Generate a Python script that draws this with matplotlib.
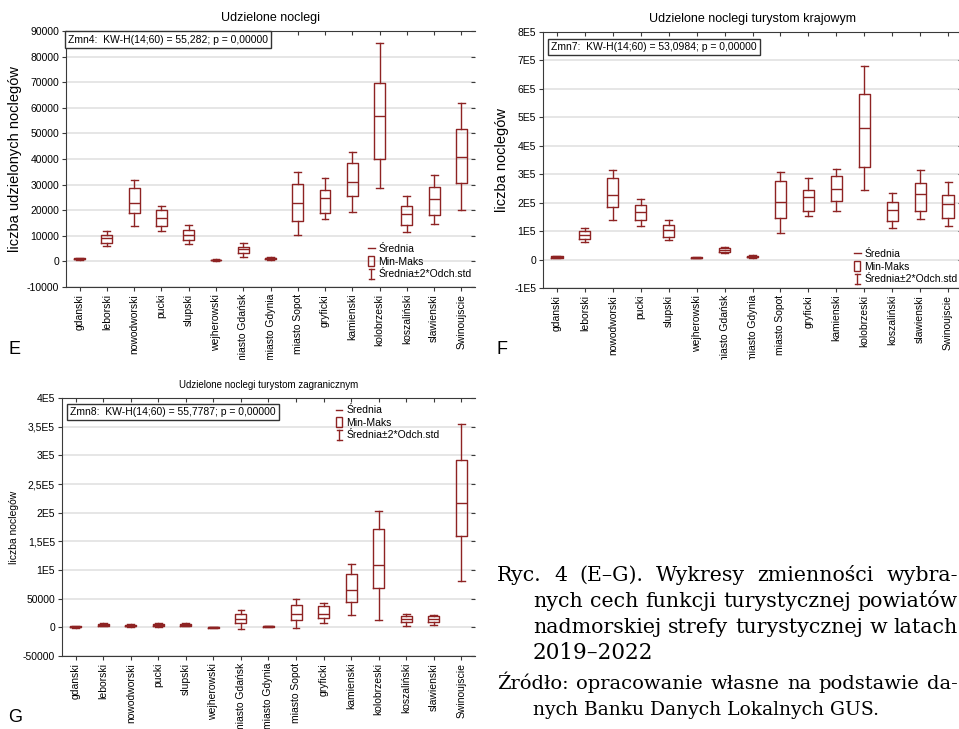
import matplotlib
matplotlib.use("Agg")
import matplotlib.pyplot as plt
import numpy as np
from matplotlib.lines import Line2D
from matplotlib.patches import Rectangle
from matplotlib.legend_handler import HandlerBase
from matplotlib.transforms import Bbox, TransformedBbox

plt.rcParams['font.family'] = ['Liberation Sans', 'DejaVu Sans']

categories = ["gdanski", "leborski", "nowodworski", "pucki", "slupski",
              "wejherowski", "miasto Gdańsk", "miasto Gdynia", "miasto Sopot",
              "gryficki", "kamienski", "kolobrzeski", "koszaliński",
              "slawienski", "Swinoujscie"]

# E - udzielone noclegi
e_mean   = [1000, 9000, 23000, 16800, 10500, 600, 4700, 1200, 22700, 24600, 31100, 56700, 18700, 24300, 40800]
e_box_lo = [800, 7300, 18800, 14000, 8200, 400, 3200, 800, 15800, 18800, 25500, 39900, 14300, 18100, 30600]
e_box_hi = [1300, 10400, 28800, 19900, 12300, 700, 5700, 1500, 30400, 27700, 38600, 69800, 21500, 28900, 51900]
e_wh_lo  = [500, 6100, 13800, 11800, 6800, 300, 1800, 500, 10400, 16400, 19400, 28600, 11400, 14600, 20000]
e_wh_hi  = [1500, 11800, 31800, 21800, 14400, 900, 7100, 1800, 34800, 32400, 42700, 85300, 25600, 33800, 61800]

# F - turystom krajowym (in 1E5)
f_mean   = [0.09, 0.85, 2.28, 1.67, 1.04, 0.07, 0.33, 0.10, 2.03, 2.21, 2.47, 4.61, 1.74, 2.29, 1.94]
f_box_lo = [0.07, 0.73, 1.86, 1.38, 0.78, 0.05, 0.26, 0.08, 1.46, 1.70, 2.06, 3.27, 1.36, 1.70, 1.46]
f_box_hi = [0.12, 1.00, 2.85, 1.93, 1.21, 0.09, 0.41, 0.13, 2.75, 2.44, 2.93, 5.83, 2.01, 2.69, 2.28]
f_wh_lo  = [0.05, 0.62, 1.39, 1.19, 0.67, 0.04, 0.22, 0.06, 0.95, 1.52, 1.72, 2.45, 1.12, 1.41, 1.17]
f_wh_hi  = [0.13, 1.11, 3.14, 2.13, 1.39, 0.10, 0.44, 0.15, 3.09, 2.88, 3.18, 6.79, 2.33, 3.16, 2.72]

# G - turystom zagranicznym (in 1E5)
g_mean   = [0.01, 0.04, 0.03, 0.035, 0.04, 0.0, 0.14, 0.02, 0.24, 0.24, 0.65, 1.09, 0.15, 0.15, 2.17]
g_box_lo = [0.0, 0.03, 0.02, 0.02, 0.03, -0.004, 0.07, 0.01, 0.12, 0.17, 0.44, 0.69, 0.09, 0.10, 1.59]
g_box_hi = [0.02, 0.06, 0.045, 0.05, 0.055, 0.004, 0.23, 0.025, 0.39, 0.38, 0.93, 1.72, 0.20, 0.19, 2.92]
g_wh_lo  = [-0.005, 0.02, 0.0, 0.0, 0.02, -0.006, -0.03, 0.005, -0.02, 0.07, 0.21, 0.13, 0.03, 0.04, 0.80]
g_wh_hi  = [0.025, 0.07, 0.06, 0.07, 0.07, 0.006, 0.30, 0.03, 0.50, 0.42, 1.11, 2.03, 0.24, 0.22, 3.54]

e_ticks = [-10000, 0, 10000, 20000, 30000, 40000, 50000, 60000, 70000, 80000, 90000]
e_ticklabels = ["-10000", "0", "10000", "20000", "30000", "40000", "50000", "60000", "70000", "80000", "90000"]
f_ticks = [-1, 0, 1, 2, 3, 4, 5, 6, 7, 8]
f_ticklabels = ["-1E5", "0", "1E5", "2E5", "3E5", "4E5", "5E5", "6E5", "7E5", "8E5"]
g_ticks = [-0.5, 0, 0.5, 1, 1.5, 2, 2.5, 3, 3.5, 4]
g_ticklabels = ["-50000", "0", "50000", "1E5", "1,5E5", "2E5", "2,5E5", "3E5", "3,5E5", "4E5"]

RED = "#8e2323"
W, H = 959, 729


class BoxHandler(HandlerBase):
    def create_artists(self, legend, orig_handle, xd, yd, width, height, fontsize, trans):
        w, h = width * 0.75, height * 1.3
        r = Rectangle((-xd + (width - w) / 2, -yd + (height - h) / 2), w, h,
                      fill=False, edgecolor=RED, lw=1, transform=trans)
        return [r]


class IBeamHandler(HandlerBase):
    def create_artists(self, legend, orig_handle, xd, yd, width, height, fontsize, trans):
        cx = -xd + width / 2
        y0, y1 = -yd - height * 0.25, -yd + height * 1.15
        c = width * 0.3
        return [Line2D([cx, cx], [y0, y1], color=RED, lw=1, transform=trans),
                Line2D([cx - c, cx + c], [y0, y0], color=RED, lw=1, transform=trans),
                Line2D([cx - c, cx + c], [y1, y1], color=RED, lw=1, transform=trans)]


class MeanHandler(HandlerBase):
    def create_artists(self, legend, orig_handle, xd, yd, width, height, fontsize, trans):
        cy = -yd + height / 2
        return [Line2D([-xd + width * 0.1, -xd + width * 0.9], [cy, cy], color=RED, lw=1, transform=trans)]


def panel(rect, mean, blo, bhi, wlo, whi, scale, ticks, ticklabels, title, title_fs,
          ylabel, ylabel_fs, ylab_x, stat, stat_xy, leg_xy):
    ax = fig.add_axes(rect)
    stats = []
    for i in range(len(categories)):
        stats.append(dict(med=mean[i] * scale, q1=blo[i] * scale, q3=bhi[i] * scale,
                          whislo=wlo[i] * scale, whishi=whi[i] * scale))
    lp = dict(color=RED, lw=1)
    ax.bxp(stats, positions=range(len(categories)), widths=0.4, capwidths=0.25,
           showfliers=False, boxprops=lp, medianprops=lp, whiskerprops=lp, capprops=lp)
    ax.set_xlim(-0.5, len(categories) - 0.5)
    ax.set_ylim(ticks[0] * scale, ticks[-1] * scale)
    ax.set_yticks([t * scale for t in ticks])
    ax.set_yticklabels(ticklabels, fontsize=7.5)
    ax.set_xticks(range(len(categories)))
    ax.set_xticklabels(categories, rotation=90, fontsize=7.5)
    ax.grid(axis='y', color='#e4e4e4', lw=1.3)
    ax.set_axisbelow(True)
    ax.spines['right'].set_visible(False)
    for s in ['left', 'bottom', 'top']:
        ax.spines[s].set_color('#3a3a3a')
    ax.tick_params(axis='both', length=3, width=0.8, color='#3a3a3a', pad=2)
    ax.tick_params(top=True, right=True, which='both')
    for t in ax.xaxis.get_major_ticks():
        t.tick2line.set_marker(3)
        t.tick2line.set_markersize(3)
    for t in ax.yaxis.get_major_ticks():
        t.tick2line.set_marker(0)
        t.tick2line.set_markersize(3)
    ax.set_title(title, fontsize=title_fs, pad=7)
    ax.set_ylabel(ylabel, fontsize=ylabel_fs)
    ax.yaxis.set_label_coords(ylab_x, 0.5)
    ax.text(stat_xy[0], stat_xy[1], stat, transform=ax.transAxes, fontsize=7.5,
            ha='left', va='top',
            bbox=dict(boxstyle='square,pad=0.3', fc='white', ec='#333333', lw=1))
    handles = [Line2D([], []), Rectangle((0, 0), 1, 1), Line2D([], [], marker='|')]
    ax.legend(handles, ["Średnia", "Min-Maks", "Średnia±2*Odch.std"],
              handler_map={handles[0]: MeanHandler(), handles[1]: BoxHandler(),
                           handles[2]: IBeamHandler()},
              loc='upper left', bbox_to_anchor=leg_xy, frameon=False, fontsize=7.5,
              handlelength=0.8, handletextpad=0.3, labelspacing=0.25, borderpad=0,
              borderaxespad=0)
    return ax


def frac(l, t, r, b):
    return [l / W, 1 - b / H, (r - l) / W, (b - t) / H]


fig = plt.figure(figsize=(W / 100, H / 100), dpi=100)

axE = panel(frac(66, 31, 475, 287), e_mean, e_box_lo, e_box_hi, e_wh_lo, e_wh_hi, 1,
            e_ticks, e_ticklabels, "Udzielone noclegi", 9, "liczba udzielonych noclegów", 10.5,
            -0.108, "Zmn4:  KW-H(14;60) = 55,282; p = 0,00000", (0.005, 0.986), (0.736, 0.168))
axF = panel(frac(543, 32, 962, 288), f_mean, f_box_lo, f_box_hi, f_wh_lo, f_wh_hi, 1e5,
            f_ticks, f_ticklabels, "Udzielone noclegi turystom krajowym", 9, "liczba noclegów", 10.5,
            -0.081, "Zmn7:  KW-H(14;60) = 53,0984; p = 0,00000", (0.019, 0.962), (0.74, 0.152))
axG = panel(frac(62, 398, 475, 656), g_mean, g_box_lo, g_box_hi, g_wh_lo, g_wh_hi, 1e5,
            g_ticks, g_ticklabels, "Udzielone noclegi turystom zagranicznym", 7, "liczba noclegów", 7.5,
            -0.104, "Zmn8:  KW-H(14;60) = 55,7787; p = 0,00000", (0.019, 0.966), (0.661, 0.972))

# tick labels of the top panels are cut at the panel edge
clip = TransformedBbox(Bbox([[0, 1 - 360 / H], [1, 1]]), fig.transFigure)
for ax in (axE, axF):
    for t in ax.get_xticklabels():
        t.set_clip_box(clip)
        t.set_clip_on(True)

fig.text(8 / W, 1 - 350 / H, "E", fontsize=13, va='center', ha='left')
fig.text(496 / W, 1 - 350 / H, "F", fontsize=13, va='center', ha='left')
fig.text(8 / W, 1 - 718 / H, "G", fontsize=13, va='center', ha='left')

# caption
renderer = fig.canvas.get_renderer()
serif = 'DejaVu Serif'


def justify(line, x0, x1, ybase, fs):
    words = line.split(" ")
    texts = [fig.text(0, 1 - ybase / H, w, fontsize=fs, family=serif, va='baseline')
             for w in words]
    widths = [t.get_window_extent(renderer).width for t in texts]
    gap = (x1 - x0 - sum(widths)) / (len(words) - 1)
    x = x0
    for t, w in zip(texts, widths):
        t.set_x(x / W)
        x += w + gap


justify("Ryc. 4 (E–G). Wykresy zmienności wybra-", 497, 958, 581, 14.8)
justify("nych cech funkcji turystycznej powiatów", 533, 958, 607, 14.8)
justify("nadmorskiej strefy turystycznej w latach", 533, 958, 633, 14.8)
fig.text(533 / W, 1 - 659 / H, "2019–2022", fontsize=15.5, family=serif, va='baseline')
justify("Źródło: opracowanie własne na podstawie da-", 497, 958, 689, 14)
fig.text(533 / W, 1 - 715 / H, "nych Banku Danych Lokalnych GUS.", fontsize=13.5,
         family=serif, va='baseline')

fig.savefig("out.png", dpi=100)
